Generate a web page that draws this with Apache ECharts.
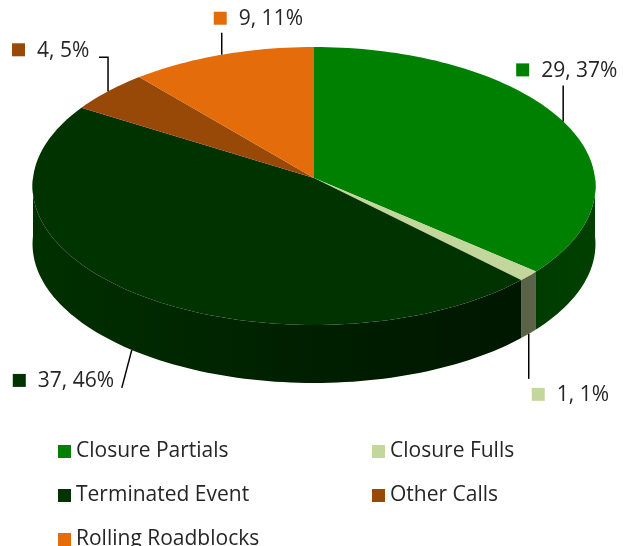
<!DOCTYPE html>
<html>
<head>
<meta charset="utf-8">
<script src="https://cdn.jsdelivr.net/npm/echarts@6/dist/echarts.min.js"></script>
<style>html,body{margin:0;padding:0;background:#fff}#main{width:623px;height:546px}</style>
</head>
<body>
<div id="main"></div>
<script>
// data
const categories = ['Closure Partials', 'Closure Fulls', 'Terminated Event', 'Other Calls', 'Rolling Roadblocks'];
const values = [29, 1, 37, 4, 9];
const percents = [37, 1, 46, 5, 11];
const colors = ['#008000', '#c3d69b', '#003300', '#984807', '#e46c0a'];

// 3d pie look: projected top face (with a little perspective), wall height
const pie = { cx: 314, cy: 178, rx: 281, ry: 138.5, persp: 0.0576, depth: 58 };
// leader line bends (relative to slice anchor) and label marker offset (relative to leader end)
const leaders = [[[0, -36]], [[0, 45]], [[-10, 38]], [[0, -34], [-9, -34]], [[0, -22]]];
const labelBox = [[-47, -22], [3, 9], [-109, -14], [-87, -14], [-8, -21]];
const font = 'Open Sans';
const textColor = '#262626';

const total = values.reduce((a, b) => a + b, 0);
let acc = 0;
const angles = values.map(v => {
  const s = acc / total * 360;
  acc += v;
  return [s, acc / total * 360];
});

function pt(deg, drop) {
  const r = deg * Math.PI / 180;
  const u = Math.sin(r), v = Math.cos(r), w = 1 + pie.persp * v;
  return [pie.cx + pie.rx * u / w, pie.cy - pie.ry * v / w + (drop || 0)];
}
function arcPts(a0, a1, drop) {
  const n = Math.max(2, Math.ceil(Math.abs(a1 - a0) / 1.5));
  const out = [];
  for (let i = 0; i <= n; i++) out.push(pt(a0 + (a1 - a0) * i / n, drop));
  return out;
}
function shade(hex, f) {
  const n = parseInt(hex.slice(1), 16);
  const c = [(n >> 16) & 255, (n >> 8) & 255, n & 255].map(v => Math.round(v * f));
  return 'rgb(' + c.join(',') + ')';
}
function wallFill(color) {
  return {
    type: 'linear', x: pie.cx - pie.rx, y: 0, x2: pie.cx + pie.rx, y2: 0, global: true,
    colorStops: [
      { offset: 0, color: shade(color, 0.95) },
      { offset: 0.5, color: shade(color, 0.6) },
      { offset: 0.85, color: shade(color, 0.45) },
      { offset: 1, color: shade(color, 0.5) }
    ]
  };
}

function renderSlice(params, api) {
  const i = params.seriesIndex;
  const a0 = api.value(0), a1 = api.value(1);
  const color = colors[i];
  const children = [];
  // outer wall, only the front half shows
  const w0 = Math.max(a0, 90), w1 = Math.min(a1, 270);
  if (w1 > w0) {
    children.push({
      type: 'polygon', z2: 1,
      shape: { points: arcPts(w0, w1, 0).concat(arcPts(w1, w0, pie.depth)) },
      style: { fill: wallFill(color) }
    });
  }
  // top face
  children.push({
    type: 'polygon', z2: 5,
    shape: { points: [[pie.cx, pie.cy]].concat(arcPts(a0, a1, 0)) },
    style: { fill: color }
  });
  // label with leader line
  const mid = (a0 + a1) / 2;
  const front = mid > 90 && mid < 270;
  const A = pt(mid, front ? pie.depth : 0);
  const pts = [A].concat(leaders[i].map(o => [A[0] + o[0], A[1] + o[1]]));
  const end = pts[pts.length - 1];
  const bx = end[0] + labelBox[i][0], by = end[1] + labelBox[i][1];
  children.push({
    type: 'polyline', z2: 10,
    shape: { points: pts },
    style: { stroke: '#000', lineWidth: 1.5, fill: null }
  });
  children.push({
    type: 'rect', z2: 10,
    shape: { x: bx, y: by, width: 13, height: 13 },
    style: { fill: color }
  });
  children.push({
    type: 'text', z2: 10,
    style: {
      x: bx + 25, y: by + 7.5,
      text: values[i] + ', ' + percents[i] + '%',
      fill: textColor, font: '21px "' + font + '"',
      verticalAlign: 'middle', align: 'left'
    }
  });
  return { type: 'group', children: children };
}

const series = categories.map((name, i) => ({
  type: 'custom',
  name: name,
  coordinateSystem: 'none',
  silent: true,
  itemStyle: { color: colors[i] },
  data: [{ name: name, value: angles[i] }],
  renderItem: renderSlice
}));

const legendBase = {
  orient: 'vertical', top: 441, height: 160, padding: 0, itemGap: 23,
  itemWidth: 13, itemHeight: 13, icon: 'rect', selectedMode: false,
  textStyle: { fontFamily: font, fontSize: 21, color: textColor }
};

const chart = echarts.init(document.getElementById('main'));
chart.setOption({
  animation: false,
  legend: [
    Object.assign({ left: 58, data: [categories[0], categories[2], categories[4]] }, legendBase),
    Object.assign({ left: 372, data: [categories[1], categories[3]] }, legendBase)
  ],
  series: series
});
</script>
</body>
</html>
